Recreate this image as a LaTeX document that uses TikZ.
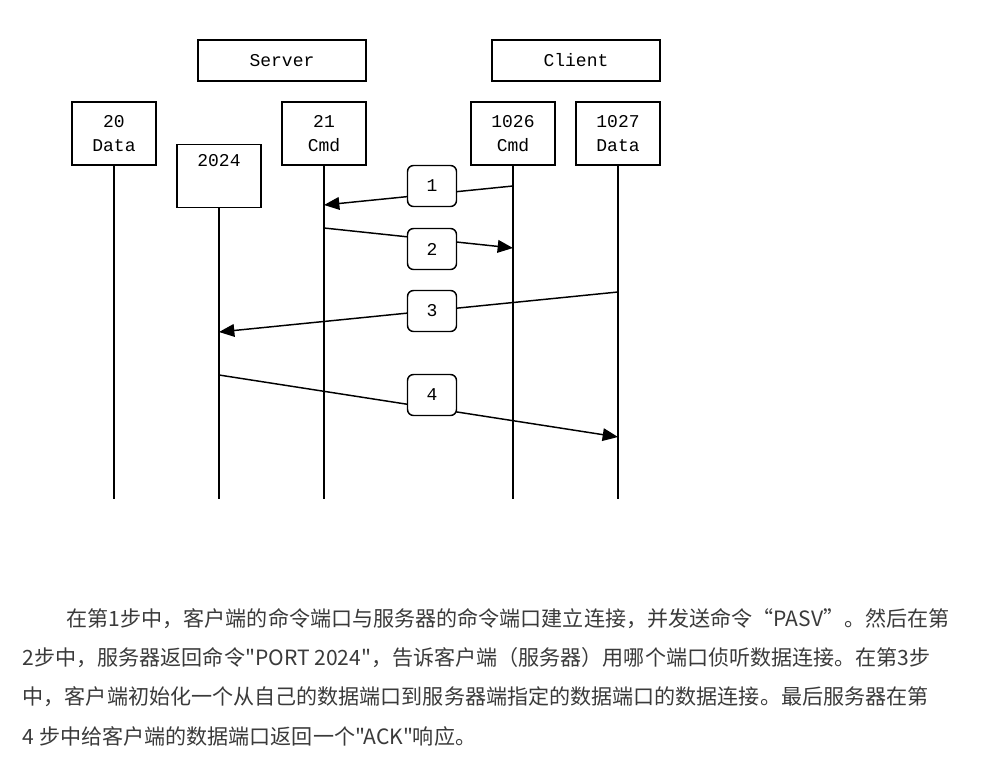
\documentclass[tikz,border=0pt]{standalone}
\usepackage{fontspec}
\setmonofont{Liberation Mono}
\newfontfamily\cjk{Noto Sans CJK SC}
\usetikzlibrary{arrows.meta}
\definecolor{captiongray}{HTML}{3A3A3A}
\begin{document}
\begin{tikzpicture}[x=0.75pt,y=-0.75pt,
  every path/.style={line width=1.1pt},
  hostbox/.style={draw, minimum width=126pt, minimum height=30.75pt, inner sep=0pt,
    font=\ttfamily\fontsize{13.5}{18}\selectfont},
  portbox/.style={draw, minimum width=63pt, minimum height=47.25pt, inner sep=0pt, align=center,
    font=\ttfamily\fontsize{13.5}{18}\selectfont},
  stepbox/.style={draw, fill=white, rounded corners=4.5pt, minimum width=36.75pt, minimum height=30.75pt,
    inner sep=0pt, font=\ttfamily\fontsize{13.5}{18}\selectfont},
  msg/.style={-{Triangle[length=11.5pt,width=9.5pt]}},
  caption/.style={anchor=west, inner sep=0pt, text=captiongray, font=\cjk\fontsize{15.8}{20}\selectfont}]
\useasboundingbox (0,0) rectangle (990,760);

% hosts
\node[hostbox] (server) at (282,60.5) {Server};
\node[hostbox] (client) at (576,60.5) {Client};

% ports
\node[portbox] (d20)   at (114,133.5) {20\\Data};
\node[portbox] (p2024) at (219,176)   {2024\\\strut};
\node[portbox] (c21)   at (324,133.5) {21\\Cmd};
\node[portbox] (c1026) at (513,133.5) {1026\\Cmd};
\node[portbox] (d1027) at (618,133.5) {1027\\Data};

% lifelines
\coordinate (bottom) at (0,499);
\foreach \p in {d20,p2024,c21,c1026,d1027}
  \draw (\p.south) -- (\p.south |- bottom);

% message end points on the lifelines
\coordinate (s1) at (513,186);   \coordinate (e1) at (324,205);
\coordinate (s2) at (324,228);   \coordinate (e2) at (513,248);
\coordinate (s3) at (618,292);   \coordinate (e3) at (219,332);
\coordinate (s4) at (219,375);   \coordinate (e4) at (618,437);

\draw[msg] (s1) -- (e1);
\draw[msg] (s2) -- (e2);
\draw[msg] (s3) -- (e3);
\draw[msg] (s4) -- (e4);

% step labels
\node[stepbox] (n1) at (432,186) {1};
\node[stepbox] (n2) at (432,249) {2};
\node[stepbox] (n3) at (432,311) {3};
\node[stepbox] (n4) at (432,395) {4};

% explanation
\node[caption] (t1) at (66,619) {在第1步中，客户端的命令端口与服务器的命令端口建立连接，并发送命令“PASV”。然后在第};
\node[caption] (t2) at (22,658) {2步中，服务器返回命令"PORT 2024"，告诉客户端（服务器）用哪个端口侦听数据连接。在第3步};
\node[caption] (t3) at (22,697) {中，客户端初始化一个从自己的数据端口到服务器端指定的数据端口的数据连接。最后服务器在第};
\node[caption] (t4) at (22,736) {4 步中给客户端的数据端口返回一个"ACK"响应。};
\end{tikzpicture}
\end{document}
